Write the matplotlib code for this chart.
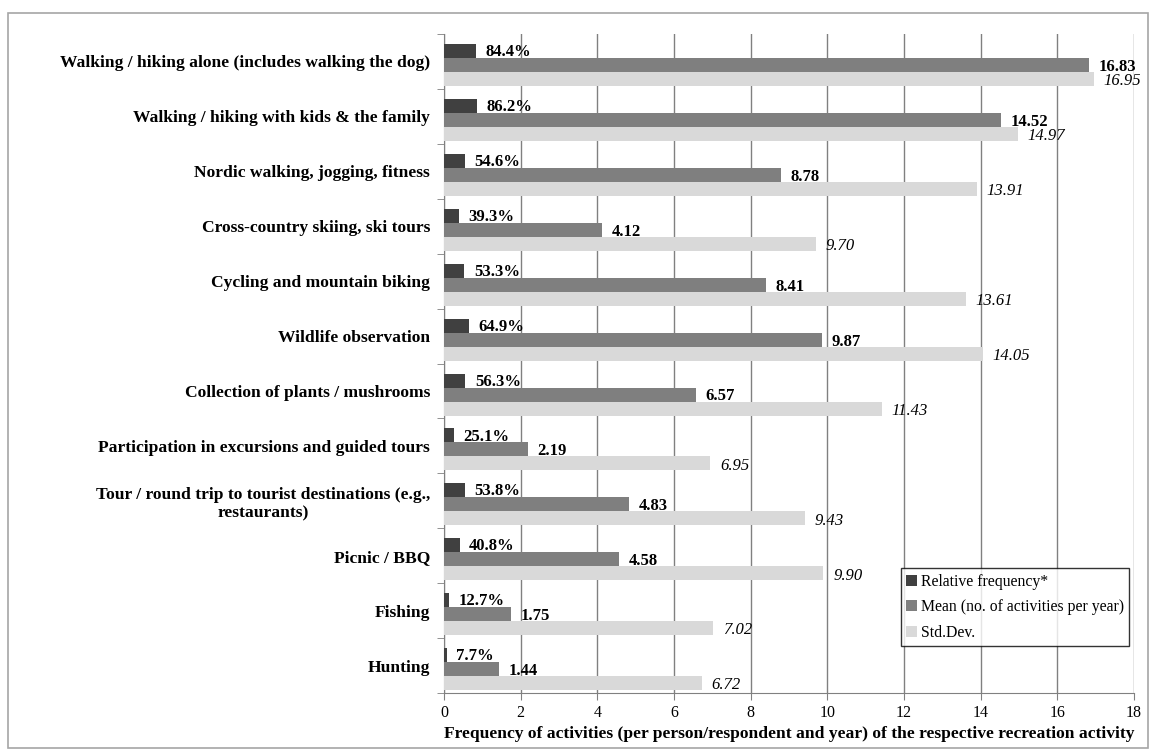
import matplotlib.pyplot as plt
from matplotlib.patches import Rectangle
import numpy as np

plt.rcParams['font.family'] = ['Liberation Serif', 'DejaVu Serif']

activities = [
    'Walking / hiking alone (includes walking the dog)',
    'Walking / hiking with kids & the family',
    'Nordic walking, jogging, fitness',
    'Cross-country skiing, ski tours',
    'Cycling and mountain biking',
    'Wildlife observation',
    'Collection of plants / mushrooms',
    'Participation in excursions and guided tours',
    'Tour / round trip to tourist destinations (e.g.,\nrestaurants)',
    'Picnic / BBQ',
    'Fishing',
    'Hunting',
]
rel_freq = [84.4, 86.2, 54.6, 39.3, 53.3, 64.9, 56.3, 25.1, 53.8, 40.8, 12.7, 7.7]
mean_vals = [16.83, 14.52, 8.78, 4.12, 8.41, 9.87, 6.57, 2.19, 4.83, 4.58, 1.75, 1.44]
std_vals = [16.95, 14.97, 13.91, 9.70, 13.61, 14.05, 11.43, 6.95, 9.43, 9.90, 7.02, 6.72]

fig = plt.figure(figsize=(11.53, 7.51), dpi=100)
ax = fig.add_axes([0.385, 0.0772, 0.5985, 0.8775])

# grey frame round the whole chart
fig.patches.append(Rectangle((0.007, 0.004), 0.989, 0.979, transform=fig.transFigure,
                             fill=False, edgecolor='#a6a6a6', linewidth=1.2))

y = np.arange(len(activities))
h = 0.255
rel = np.array(rel_freq) / 100

ax.barh(y - 0.19, rel, height=h, color='#404040', label='Relative frequency*', zorder=3)
ax.barh(y + 0.065, mean_vals, height=h, color='#7f7f7f', label='Mean (no. of activities per year)', zorder=3)
ax.barh(y + 0.32, std_vals, height=h, color='#d9d9d9', label='Std.Dev.', zorder=3)

for i in range(len(activities)):
    ax.text(rel[i] + 0.25, y[i] - 0.17, '%.1f%%' % rel_freq[i], fontsize=12, fontweight='bold',
            va='center', ha='left', zorder=2)
    ax.text(mean_vals[i] + 0.25, y[i] + 0.1, '%.2f' % mean_vals[i], fontsize=12, fontweight='bold',
            va='center', ha='left', zorder=4)
    ax.text(std_vals[i] + 0.25, y[i] + 0.36, '%.2f' % std_vals[i], fontsize=12, style='italic',
            va='center', ha='left', zorder=4)

ax.set_xlim(0, 18)
ax.set_ylim(len(activities) - 0.5, -0.5)
ax.set_xticks(range(0, 19, 2))
ax.set_yticks(y)
ax.set_yticklabels(activities, fontsize=12.6, fontweight='bold', multialignment='center')
ax.set_yticks(np.arange(-0.5, len(activities)), minor=True)
ax.tick_params(axis='y', which='major', length=0, pad=10)
ax.tick_params(axis='y', which='minor', length=5, color='#808080')
ax.tick_params(axis='x', length=5, color='#808080', labelsize=11.5)
ax.xaxis.grid(True, color='#808080', linewidth=1, zorder=0)
ax.set_axisbelow(True)
for s in ['top', 'right']:
    ax.spines[s].set_visible(False)
for s in ['left', 'bottom']:
    ax.spines[s].set_color('#808080')
ax.set_xlabel('Frequency of activities (per person/respondent and year) of the respective recreation activity',
              fontsize=12.6, fontweight='bold', labelpad=4)

leg = ax.legend(loc='lower right', bbox_to_anchor=(0.993, 0.071), fontsize=11.3, frameon=True,
                fancybox=False, edgecolor='black', handlelength=0.7, handleheight=0.7,
                handletextpad=0.2, labelspacing=0.6, borderpad=0.35, borderaxespad=0)
leg.get_frame().set_linewidth(1.0)

fig.savefig('out.png', dpi=100)
